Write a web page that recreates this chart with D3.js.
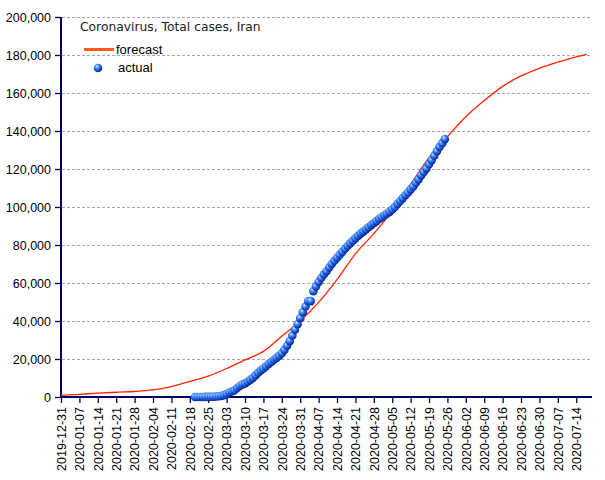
<!DOCTYPE html>
<html>
<head>
<meta charset="utf-8">
<title>Coronavirus, Total cases, Iran</title>
<script src="https://d3js.org/d3.v7.min.js"></script>
<style>
  body { margin: 0; background: #fff; }
  svg { display: block; }
</style>
</head>
<body>
<svg id="chart" width="605" height="480"></svg>
<script>
// forecast, one reading per week (Tuesdays) from 2019-12-31, plus the last day
const forecastDates = ["2019-12-31","2020-01-07","2020-01-14","2020-01-21","2020-01-28","2020-02-04",
  "2020-02-11","2020-02-18","2020-02-25","2020-03-03","2020-03-10","2020-03-17","2020-03-24",
  "2020-03-31","2020-04-07","2020-04-14","2020-04-21","2020-04-28","2020-05-05","2020-05-12",
  "2020-05-19","2020-05-26","2020-06-02","2020-06-09","2020-06-16","2020-06-23","2020-06-30",
  "2020-07-07","2020-07-14","2020-07-18"];
const forecastValues = [900,1400,2000,2500,2900,3700,5500,8200,11000,15000,19500,24000,32000,
  40000,49800,61800,75300,86000,98000,112000,126000,137000,147500,156000,163500,169000,173000,
  176200,179000,180300];

// actual, daily from 2020-02-20
const actualStart = "2020-02-20";
const actualValues = [2,5,18,28,43,61,95,139,245,388,593,978,1501,2336,2922,3513,4747,5823,6566,
  7161,8042,9000,10075,11364,12729,13938,14991,16169,17361,18407,19644,20610,21638,23049,24811,
  27017,29406,32332,35408,38309,41495,44605,47593,50468,50468,55743,58226,60500,62589,64586,
  66220,68192,70029,71686,73303,74877,76389,77995,79494,80868,82211,83505,84802,85996,87026,
  88194,89328,90481,91472,92584,93657,94640,95646,96448,97424,98647,99970,101650,103135,104691,
  106220,107603,109286,110767,112725,114533,116635,118392,120198,122492,124603,126949,129341,
  131652,133521,135701];

const yTicks = [0,20000,40000,60000,80000,100000,120000,140000,160000,180000,200000];
const title = "Coronavirus, Total cases, Iran";
const legendLabels = ["forecast", "actual"];

const parse = d3.utcParse("%Y-%m-%d"), fmt = d3.utcFormat("%Y-%m-%d");
const axisColor = "#000066";

const svg = d3.select("#chart");
const x = d3.scaleUtc().domain([parse("2019-12-31"), parse("2020-07-20")]).range([61, 592]);
const y = d3.scaleLinear().domain([0, 200000]).range([397, 17]);

const forecast = forecastDates.map((d, i) => ({date: parse(d), value: forecastValues[i]}));
const actual = actualValues.map((v, i) => ({date: d3.utcDay.offset(parse(actualStart), i), value: v}));

// ball gradient
const grad = svg.append("defs").append("radialGradient").attr("id", "ball")
  .attr("cx", "38%").attr("cy", "32%").attr("r", "65%");
grad.selectAll("stop").data([[0, "#e4f2ff"], [0.25, "#6aa8ff"], [0.6, "#2266e6"], [1, "#0a2a99"]])
  .enter().append("stop").attr("offset", d => d[0]).attr("stop-color", d => d[1]);

// grid
svg.append("g").selectAll("line").data(yTicks.slice(1)).enter().append("line")
  .attr("x1", 62).attr("x2", 591).attr("y1", d => y(d) + 0.5).attr("y2", d => y(d) + 0.5)
  .attr("stroke", "#a8a8a8").attr("stroke-dasharray", "3,2");

// y axis
const yAxis = svg.append("g").attr("transform", "translate(61,0)")
  .call(d3.axisLeft(y).tickValues(yTicks).tickSize(6).tickPadding(4).tickFormat(d3.format(",")));
yAxis.select(".domain").attr("d", "M0," + y(200000) + "V" + y(0));

// x axis
const xTicks = d3.utcTuesday.range(parse("2019-12-31"), parse("2020-07-15"));
const xAxis = svg.append("g").attr("transform", "translate(0,397)")
  .call(d3.axisBottom(x).tickValues(xTicks).tickSize(6).tickFormat(fmt));
xAxis.select(".domain").attr("d", "M61,0H592");
xAxis.selectAll("text").attr("transform", "rotate(-90)").attr("text-anchor", "end")
  .attr("x", -10).attr("y", 0).attr("dy", "0.35em");

svg.selectAll(".domain").attr("stroke", axisColor).attr("stroke-width", 2);
svg.selectAll(".tick line").attr("stroke", axisColor).attr("stroke-width", 1.3);
svg.selectAll(".tick text").attr("fill", "#000").attr("font-family", "Liberation Sans, Arial, sans-serif")
  .attr("font-size", 12.5);

// forecast line
svg.append("path").datum(forecast)
  .attr("fill", "none").attr("stroke", "#ff2200").attr("stroke-width", 1.3)
  .attr("d", d3.line().x(d => x(d.date)).y(d => y(d.value)).curve(d3.curveMonotoneX));

// actual balls
svg.append("g").selectAll("circle").data(actual).enter().append("circle")
  .attr("cx", d => x(d.date)).attr("cy", d => y(d.value)).attr("r", 4.3)
  .attr("fill", "url(#ball)");

// title and legend
svg.append("text").attr("x", 80).attr("y", 31).text(title)
  .attr("font-family", "DejaVu Sans, sans-serif").attr("font-size", 12.3).attr("fill", "#222");
svg.append("line").attr("x1", 84).attr("x2", 114).attr("y1", 49.5).attr("y2", 49.5)
  .attr("stroke", "#ff5a1a").attr("stroke-width", 3);
svg.append("text").attr("x", 116).attr("y", 54).text(legendLabels[0])
  .attr("font-family", "Liberation Sans, Arial, sans-serif").attr("font-size", 13);
svg.append("circle").attr("cx", 98).attr("cy", 68).attr("r", 4.3).attr("fill", "url(#ball)");
svg.append("text").attr("x", 118).attr("y", 72).text(legendLabels[1])
  .attr("font-family", "Liberation Sans, Arial, sans-serif").attr("font-size", 13);
</script>
</body>
</html>
